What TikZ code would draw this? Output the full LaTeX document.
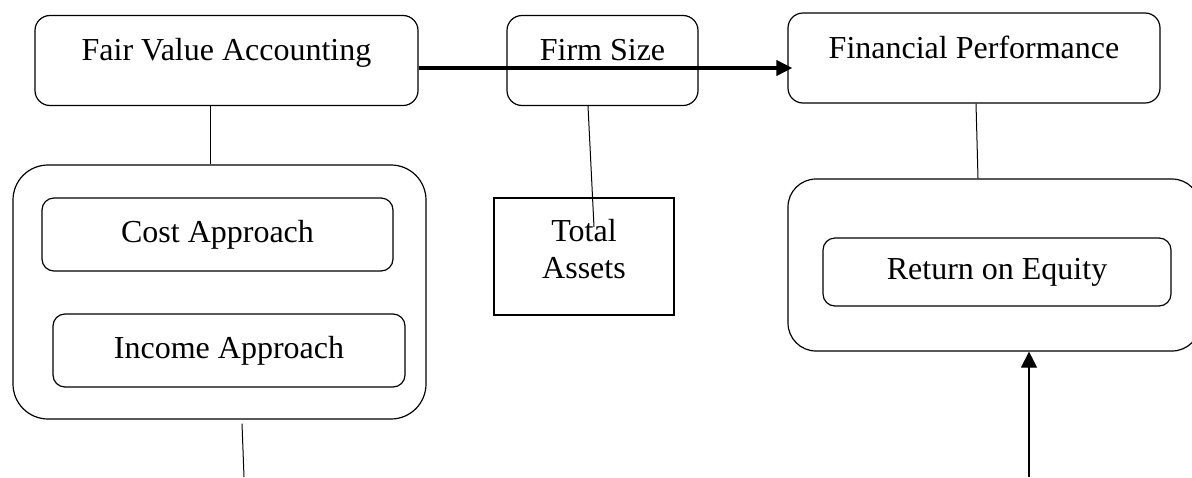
\documentclass[tikz,border=0pt]{standalone}
\usepackage{fontspec}
\setmainfont{Liberation Serif}
\usetikzlibrary{arrows.meta}

\begin{document}
\begin{tikzpicture}[x=0.5pt, y=-0.5pt,
    every node/.style={font=\fontsize{16}{18.5}\selectfont, inner sep=0pt, line width=0.6pt},
    headbox/.style={draw, rounded corners=7.5pt, text height=22.5pt, text depth=22.5pt},
    groupbox/.style={draw, rounded corners=#1},
    itembox/.style={draw, rounded corners=6pt},
    link/.style={line width=0.5pt},
    bigarrow/.style={line width=1.9pt, -{Triangle[length=8pt, width=7.5pt]}},
    uparrow/.style={line width=0.6pt, -{Triangle[length=8pt, width=8pt]}}]
    \useasboundingbox (0,0) rectangle (1192,477);

    % Top row
    \node[headbox, minimum width=191.5pt] (fva) at (226.5, 60.5) {Fair Value Accounting};
    \node[headbox, minimum width=95.5pt] (firm) at (602.5, 60.5) {Firm Size};
    \node[headbox, minimum width=186pt] (fp) at (974, 58) {Financial Performance};

    \draw[bigarrow, shorten >=-2.5pt] (fva.east |- 0,68) -- (fp.west |- 0,68);

    % Fair value approaches
    \node[groupbox=17.5pt, minimum width=206.5pt, minimum height=127pt] (approaches) at (219.5, 292) {};
    \node[itembox, minimum width=175.5pt, minimum height=36.5pt] (cost) at (217.5, 234.5) {Cost Approach};
    \node[itembox, minimum width=176pt, minimum height=36.5pt] (income) at (229, 350.5) {Income Approach};

    \draw[link] (fva.south -| 210,0) -- (approaches.north -| 210,0);
    \coordinate (approachesend) at (244, 477);
    \draw[link] (approaches.south -| 242,0) ++(0,4) -- (approachesend);

    % Firm size measure
    \node[draw, minimum width=90pt, minimum height=58.5pt, align=center] (assets) at (584, 256.5)
        {\raisebox{2pt}[\height][\depth]{\begin{tabular}{@{}c@{}}Total\\Assets\end{tabular}}};
    \coordinate (assetsend) at (594, 227);
    \draw[link] (firm.south -| 588,0) -- (assetsend);

    % Performance measure
    \node[groupbox=14pt, minimum width=206pt, minimum height=86pt] (measures) at (994, 265) {};
    \node[itembox, minimum width=174pt, minimum height=34pt] (roe) at (997, 272) {Return on Equity};

    \draw[link] (fp.south -| 976,0) -- (measures.north -| 978,0);
    \coordinate (roebase) at (1029, 477);
    \draw[uparrow] (roebase) -- (measures.south -| 1029,0);
\end{tikzpicture}
\end{document}
